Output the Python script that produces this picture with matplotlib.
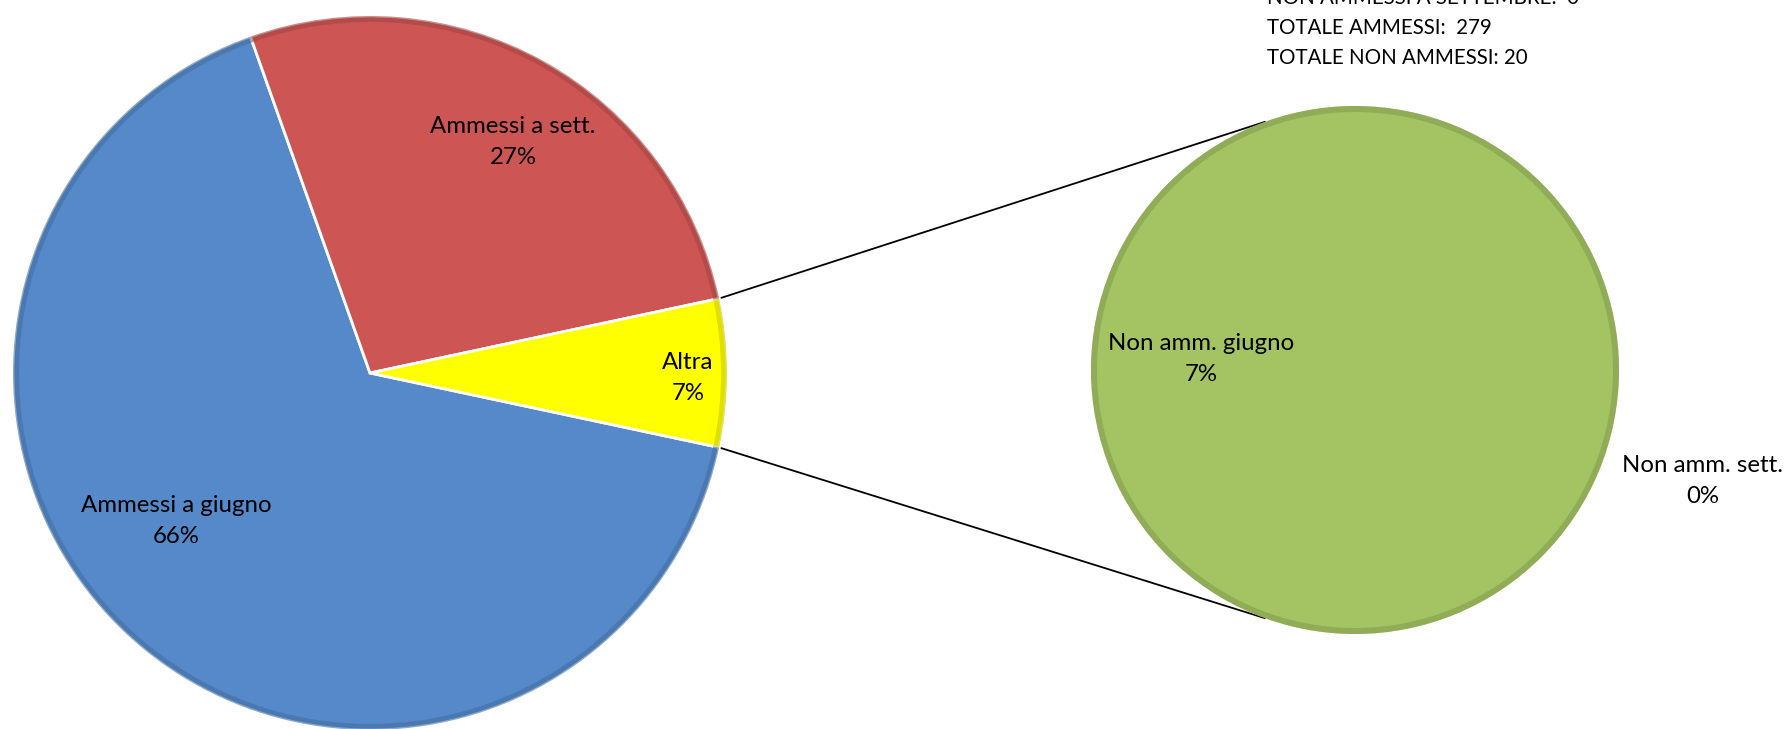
import matplotlib
matplotlib.use("Agg")
import matplotlib.pyplot as plt
import numpy as np

# ---- data ----
main_labels = ["Ammessi a giugno", "Ammessi a sett.", "Altra"]
main_values = [198, 81, 20]
main_pct = ["66%", "27%", "7%"]
main_colors = ["#5589C9", "#CD5654", "#FFFF00"]

sub_labels = ["Non amm. giugno", "Non amm. sett."]
sub_values = [20, 0]
sub_pct = ["7%", "0%"]
sub_colors = ["#A4C463", "#4F81BD"]

summary_lines = ["NON AMMESSI A SETTEMBRE:  0",
                 "TOTALE AMMESSI:  279",
                 "TOTALE NON AMMESSI: 20"]

W, H = 1787, 729
FONT = "Lato"
FS_LAB = 17.3
FS_SUM = 14.8

fig = plt.figure(figsize=(W / 100, H / 100), dpi=100)
ax = fig.add_axes([0, 0, 1, 1])

def Y(y):  # convert top-down pixel row into axis coordinate
    return H - y

# ---- main pie ----
c1 = (370, Y(373))
r1 = 357
total = sum(main_values)
half_altra = main_values[2] / total * 180.0
wedges, _ = ax.pie(main_values, colors=main_colors, startangle=-half_altra,
                   counterclock=False, center=c1, radius=r1,
                   explode=[0, 0.025, 0],
                   wedgeprops=dict(edgecolor="white", linewidth=2))
for w in wedges:
    w.set_clip_on(False)

# subtle darker rim for bevel look
for w, col in zip(wedges, main_colors):
    rgb = np.array(matplotlib.colors.to_rgb(col)) * 0.8
    ax.add_patch(matplotlib.patches.Wedge(
        (w.center[0], w.center[1]), w.r, w.theta1, w.theta2, width=6,
        facecolor=rgb, edgecolor="none", alpha=0.6, clip_on=False))

# ---- sub pie ----
c2 = (1355, Y(370))
r2 = 264
sw, _ = ax.pie(sub_values, colors=sub_colors, startangle=90, counterclock=False,
               center=c2, radius=r2, wedgeprops=dict(edgecolor="none"))
green_dark = np.array(matplotlib.colors.to_rgb(sub_colors[0])) * 0.8
ax.add_patch(matplotlib.patches.Wedge(c2, r2, 0, 360, width=6,
             facecolor=green_dark, edgecolor="none", alpha=0.6))

# ---- connector lines ----
a = np.deg2rad(half_altra)
b = np.deg2rad(110)
for s in (1, -1):
    x0 = c1[0] + r1 * np.cos(s * a)
    y0 = c1[1] + r1 * np.sin(s * a)
    x1 = c2[0] + r2 * np.cos(s * b)
    y1 = c2[1] + r2 * np.sin(s * b)
    ax.plot([x0, x1], [y0, y1], color="black", linewidth=1.3, zorder=0.5)

# ---- labels ----
main_pos = [(176, 521), (513, 142), (688, 378)]
for lab, pct, (x, y) in zip(main_labels, main_pct, main_pos):
    ax.text(x, Y(y), f"{lab}\n{pct}", ha="center", va="center",
            fontsize=FS_LAB, family=FONT, color="black", linespacing=1.55)

sub_pos = [(1201, 359), (1703, 481)]
for lab, pct, (x, y) in zip(sub_labels, sub_pct, sub_pos):
    ax.text(x, Y(y), f"{lab}\n{pct}", ha="center", va="center",
            fontsize=FS_LAB, family=FONT, color="black", linespacing=1.55)

for i, line in enumerate(summary_lines):
    ax.text(1267, Y(-2.5 + 30 * i), line, ha="left", va="center",
            fontsize=FS_SUM, family=FONT, color="black")

ax.set_xlim(0, W)
ax.set_ylim(0, H)
ax.set_aspect("equal")
ax.axis("off")

fig.savefig("out.png", dpi=100)
